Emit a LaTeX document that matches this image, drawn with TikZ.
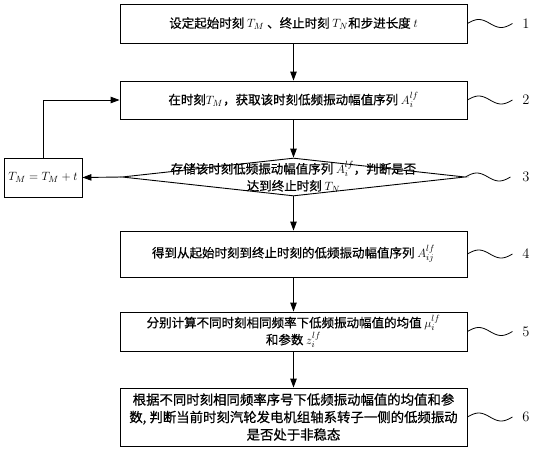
\documentclass[tikz,border=0pt]{standalone}
\usepackage{fontspec}
\newfontfamily\cjk[FakeBold=0.6]{Noto Sans CJK SC}
\usetikzlibrary{arrows.meta,shapes.geometric}
\begin{document}
\begin{tikzpicture}[x=1pt,y=-1pt,
  every node/.style={font=\cjk\fontsize{12.5}{17}\selectfont},
  procbox/.style={draw, line width=0.9pt, minimum width=347pt, inner sep=0pt, align=center},
  decbox/.style={draw, diamond, line width=0.9pt, minimum width=343pt, minimum height=38pt, inner sep=0pt, aspect=9},
  smallbox/.style={draw, line width=0.9pt, minimum width=78pt, minimum height=39pt, inner sep=1pt},
  flow/.style={line width=0.9pt, -{Triangle[length=9pt,width=6.5pt]}},
  squig/.style={line width=0.8pt},
  steplabel/.style={font=\fontsize{14.5}{16}\selectfont, inner sep=1pt}
]
\useasboundingbox (0,0) rectangle (533,450);

\node[procbox, minimum height=39pt] (b1) at (293.5,23.5)
  {设定起始时刻 $T_M$ 、终止时刻 $T_N$和步进长度 $t$};
\node[procbox, minimum height=38pt] (b2) at (293.5,100)
  {在时刻$T_M$，获取该时刻低频振动幅值序列 $A_i^{lf}$};
\node[decbox] (b3) at (293.5,177) {};
\node[align=center, inner sep=0pt] (t3) at (293.5,177)
  {存储该时刻低频振动幅值序列 $A_i^{lf}$，判断是否\\ 达到终止时刻 $T_N$};
\node[smallbox, font=\fontsize{13}{15}\selectfont] (lb) at (43,177.5) {$T_M=T_M+t$};
\node[procbox, minimum height=46pt] (b4) at (293.5,254)
  {得到从起始时刻到终止时刻的低频振动幅值序列 $A_{ij}^{lf}$};
\node[procbox, minimum height=39pt] (b5) at (293.5,331.5)
  {分别计算不同时刻相同频率下低频振动幅值的均值 $\mu_i^{lf}$\\ 和参数 $z_i^{lf}$};
\node[procbox, minimum height=58pt, font=\cjk\fontsize{13.4}{17.5}\selectfont] (b6) at (293.5,417)
  {根据不同时刻相同频率序号下低频振动幅值的均值和参\\ 数, 判断当前时刻汽轮发电机组轴系转子一侧的低频振动\\ 是否处于非稳态};

\draw[flow] (b1.south) -- (b2.north);
\draw[flow] (b2.south) -- (b3.north);
\draw[flow] (b3.south) -- (b4.north);
\draw[flow] (b4.south) -- (b5.north);
\draw[flow] (b5.south) -- (b6.north);
\draw[flow] (b3.west) -- (lb.east);
\draw[flow] (lb.north) |- (b2.west);

\node[steplabel] (l1) at (526,23.5) {1};
\node[steplabel] (l2) at (526,100) {2};
\node[steplabel] (l3) at (526,177) {3};
\node[steplabel] (l4) at (526,254) {4};
\node[steplabel] (l5) at (526,331.5) {5};
\node[steplabel] (l6) at (526,417) {6};
\foreach \b in {b1,b2,b3,b4,b5,b6}{
  \draw[squig, shift={(\b.east)}] plot[domain=0:45, samples=40, smooth] (\x,{-4*sin(8*\x)});
}
\end{tikzpicture}
\end{document}
